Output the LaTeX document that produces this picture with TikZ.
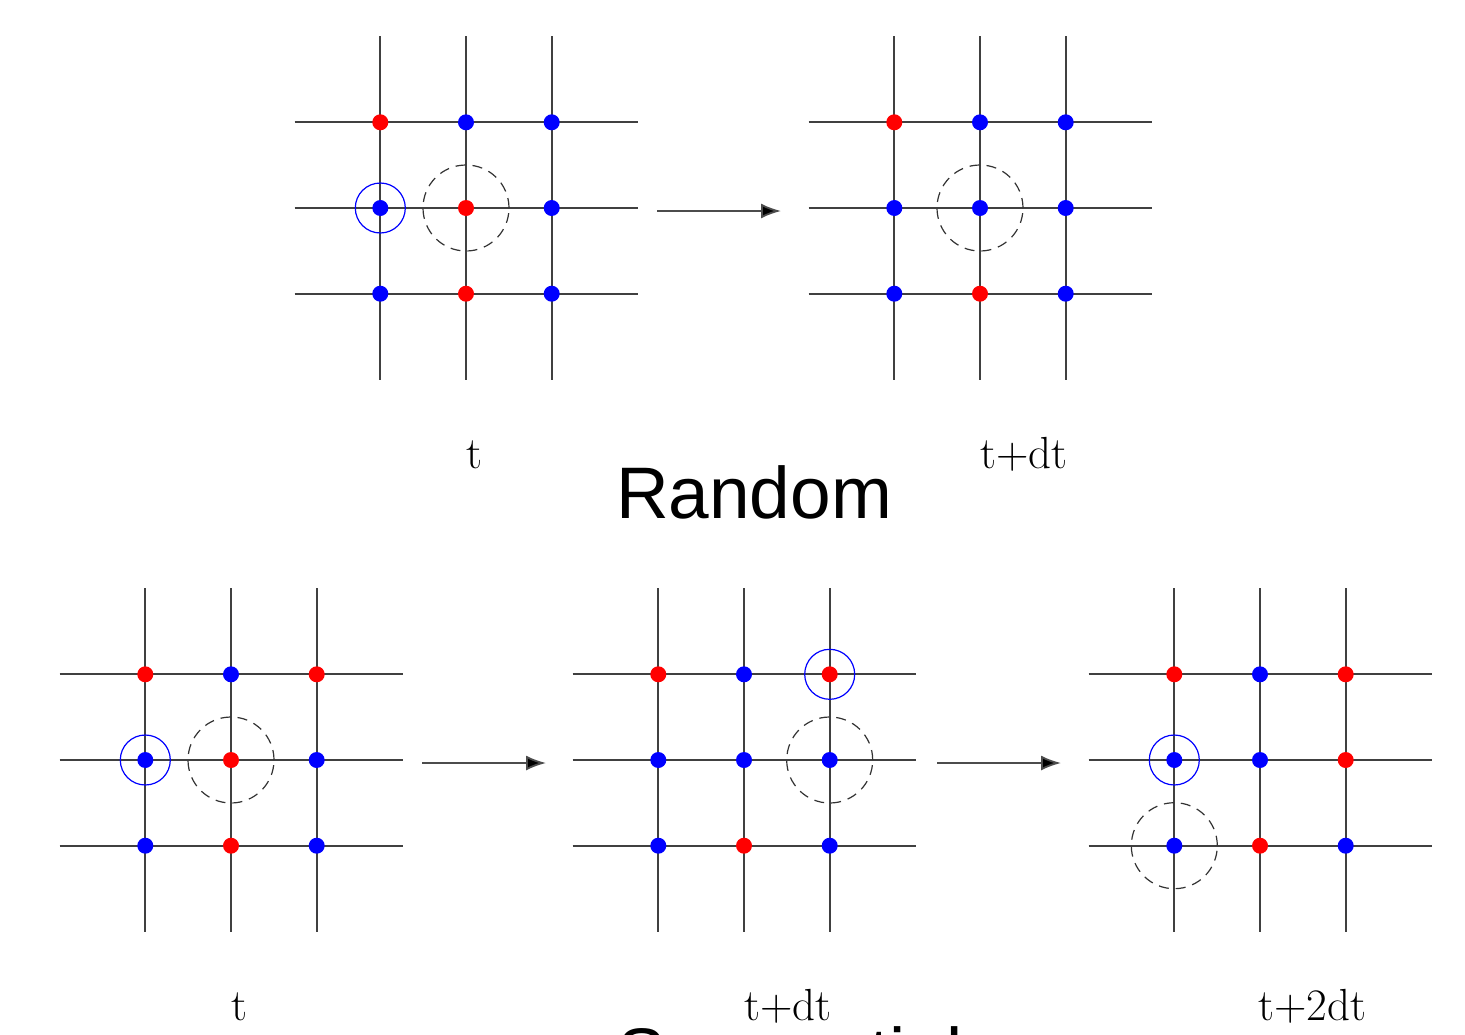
\documentclass[tikz,border=0pt]{standalone}
\usepackage{fontspec}
\newfontfamily\arialfont{Liberation Sans}
\usetikzlibrary{arrows.meta}
\tikzset{
  gridline/.style={draw=black!75, line width=1.8pt},
  dot/.style={circle, inner sep=0pt, minimum size=16pt, draw=none},
  ring/.style={circle, inner sep=0pt, minimum size=50pt, draw=blue, line width=1.2pt},
  dashring/.style={circle, inner sep=0pt, minimum size=86pt, draw=black!80, line width=1.2pt, dash pattern=on 10pt off 7pt},
  steparrow/.style={draw=black!70, line width=1.8pt, -{Latex[length=20pt,width=15pt,fill=black]}},
  tlabel/.style={anchor=base west, inner sep=0pt, font=\fontsize{45}{50}\selectfont},
  title/.style={anchor=base, inner sep=0pt, font=\arialfont\fontsize{73}{80}\selectfont}
}
\definecolor{dotred}{RGB}{255,0,0}
\definecolor{dotblue}{RGB}{0,0,255}
% #1 name, #2 cx, #3 cy, #4 nine colours (row by row)
\newcommand{\latgrid}[4]{%
  \foreach \i in {-1,0,1} {
    \draw[gridline] (#2+\i*85.7, #3-172) -- (#2+\i*85.7, #3+172);
    \draw[gridline] (#2-171.5, #3+\i*85.7) -- (#2+171.5, #3+\i*85.7);
  }
  \foreach \c [count=\k from 0] in {#4} {
    \pgfmathtruncatemacro\rr{div(\k,3)}
    \pgfmathtruncatemacro\cc{mod(\k,3)}
    \node[dot, fill=\c] (#1-\rr-\cc) at (#2+\cc*85.7-85.7, #3+\rr*85.7-85.7) {};
  }
}
\begin{document}
\begin{tikzpicture}[x=1pt,y=-1pt]
\useasboundingbox (0,0) rectangle (1465,1034);
\fill[white] (0,0) rectangle (1465,1034);
% ---- Random ----
\latgrid{A}{466}{208}{dotred,dotblue,dotblue,dotblue,dotred,dotblue,dotblue,dotred,dotblue}
\latgrid{B}{980}{208}{dotred,dotblue,dotblue,dotblue,dotblue,dotblue,dotblue,dotred,dotblue}
\node[ring] (A-ring) at (A-1-0) {};
\node[dashring] (A-dash) at (A-1-1) {};
\node[dashring] (B-dash) at (B-1-1) {};
\coordinate (r1s) at (657,211);
\coordinate (r1e) at (781,211);
\draw[steparrow] (r1s) -- (r1e);
\node[tlabel] (A-lab) at (466,468) {t};
\node[tlabel] (B-lab) at (980,468) {t+dt};
\node[title] (random) at (754,518) {Random};
% ---- Sequential ----
\latgrid{C}{231}{760}{dotred,dotblue,dotred,dotblue,dotred,dotblue,dotblue,dotred,dotblue}
\latgrid{D}{744}{760}{dotred,dotblue,dotred,dotblue,dotblue,dotblue,dotblue,dotred,dotblue}
\latgrid{E}{1260}{760}{dotred,dotblue,dotred,dotblue,dotblue,dotred,dotblue,dotred,dotblue}
\node[ring] (C-ring) at (C-1-0) {};
\node[dashring] (C-dash) at (C-1-1) {};
\node[ring] (D-ring) at (D-0-2) {};
\node[dashring] (D-dash) at (D-1-2) {};
\node[ring] (E-ring) at (E-1-0) {};
\node[dashring] (E-dash) at (E-2-0) {};
\coordinate (s1s) at (422,763);
\coordinate (s1e) at (546,763);
\coordinate (s2s) at (937,763);
\coordinate (s2e) at (1061,763);
\draw[steparrow] (s1s) -- (s1e);
\draw[steparrow] (s2s) -- (s2e);
\node[tlabel] (C-lab) at (231,1020) {t};
\node[tlabel] (D-lab) at (744,1020) {t+dt};
\node[tlabel] (E-lab) at (1258,1020) {t+2dt};
\node[title] (sequential) at (790,1079) {Sequential};
\end{tikzpicture}
\end{document}
